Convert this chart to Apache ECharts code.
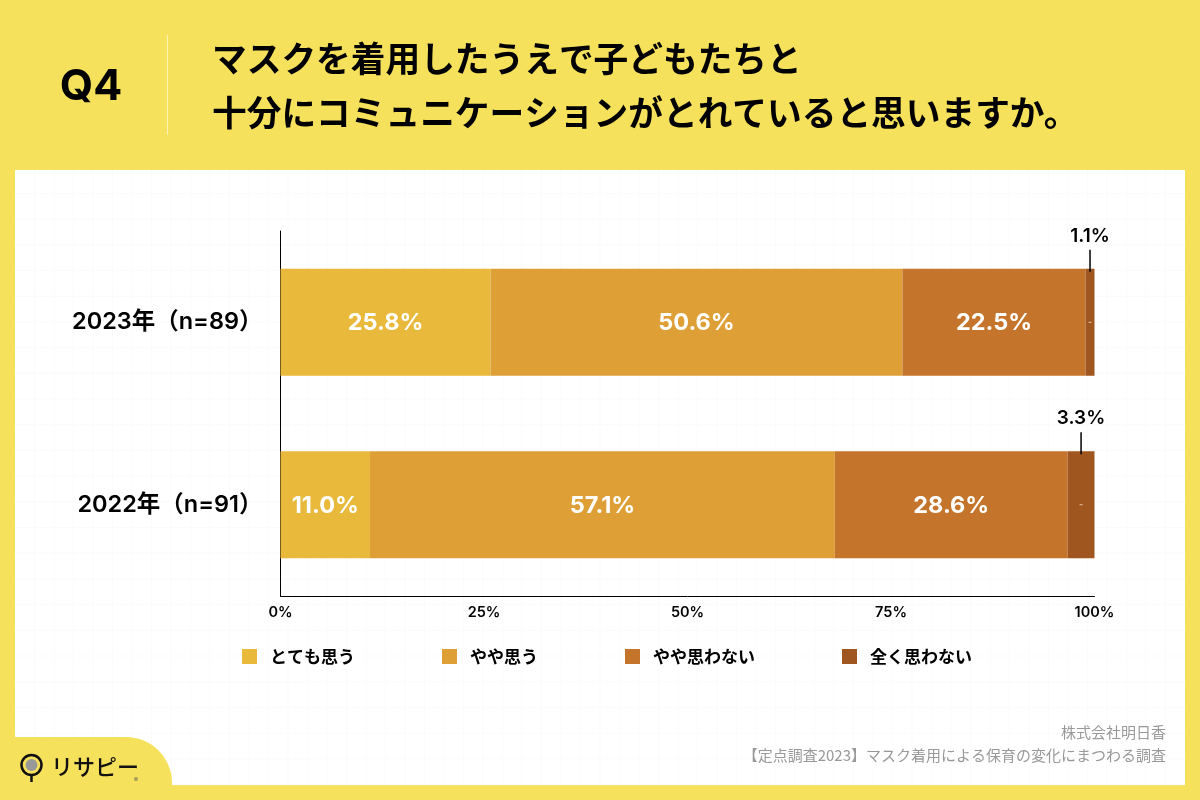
<!DOCTYPE html>
<html>
<head>
<meta charset="utf-8">
<style>
html, body { margin: 0; padding: 0; }
#chart { width: 1200px; height: 800px; }
</style>
<script src="https://cdn.jsdelivr.net/npm/echarts@6/dist/echarts.min.js"></script>
</head>
<body>
<div id="chart"></div>
<script>
var categories = ['2023年（n=89）', '2022年（n=91）'];
var seriesNames = ['とても思う', 'やや思う', 'やや思わない', '全く思わない'];
var veryMuch = [25.8, 11.0];
var somewhat = [50.6, 57.1];
var notMuch = [22.5, 28.6];
var notAtAll = [1.1, 3.3];
var colors = ['#E8B93A', '#DD9F36', '#C5752B', '#9F561F'];
var ticks = [0, 25, 50, 75, 100];

var FONT = 'Inter, "Noto Sans CJK JP", sans-serif';
var CJK = '"Noto Sans CJK JP", sans-serif';
var BAR_H = 107;

var chart = echarts.init(document.getElementById('chart'));

// faint squared paper behind the chart
var paper = [];
for (var gx = 34.5; gx < 1185; gx += 19.5) {
  paper.push({ type: 'line', z: -9, silent: true, shape: { x1: gx, y1: 170, x2: gx, y2: 785 }, style: { stroke: '#fbfbfb', lineWidth: 1 } });
}
for (var gy = 193.5; gy < 785; gy += 25.7) {
  paper.push({ type: 'line', z: -9, silent: true, shape: { x1: 15, y1: gy, x2: 1185, y2: gy }, style: { stroke: '#fbfbfb', lineWidth: 1 } });
}

var barSeries = [veryMuch, somewhat, notMuch, notAtAll].map(function (vals, i) {
  return {
    name: seriesNames[i],
    type: 'bar',
    stack: 'total',
    barWidth: BAR_H,
    itemStyle: { color: colors[i] },
    label: {
      show: i < 3,
      position: 'inside',
      offset: [0, 1],
      color: '#fff',
      fontFamily: FONT,
      fontWeight: 700,
      fontSize: 23.5,
      formatter: function (p) { return p.value.toFixed(1) + '%'; }
    },
    data: vals
  };
});

// callout above the thin last segment: leader line + value
var callouts = notAtAll.map(function (v, i) {
  return [veryMuch[i] + somewhat[i] + notMuch[i] + v / 2, i, v];
});

var option = {
  backgroundColor: '#F5E15B',
  animation: false,
  textStyle: { fontFamily: FONT },
  graphic: [
    { type: 'rect', z: -10, silent: true, shape: { x: 15, y: 170, width: 1170, height: 615 }, style: { fill: '#fff' } }
  ].concat(paper).concat([
    { type: 'line', shape: { x1: 167.5, y1: 35, x2: 167.5, y2: 135 }, style: { stroke: '#FBF3B4', lineWidth: 1 } },
    { type: 'text', x: 91, y: 87, style: { text: 'Q4', font: '700 43px ' + FONT, fill: '#000', align: 'center', verticalAlign: 'middle' } },
    { type: 'text', x: 212, y: 59, style: { text: 'マスクを着用したうえで子どもたちと', font: '700 34.7px ' + CJK, fill: '#000', align: 'left', verticalAlign: 'middle' } },
    { type: 'text', x: 212, y: 113, style: { text: '十分にコミュニケーションがとれていると思いますか。', font: '700 34.7px ' + CJK, fill: '#000', align: 'left', verticalAlign: 'middle' } },
    { type: 'text', x: 1166, y: 732, style: { text: '株式会社明日香', font: '400 15px ' + CJK, fill: '#999', align: 'right', verticalAlign: 'middle' } },
    { type: 'text', x: 1166, y: 755, style: { text: '【定点調査2023】マスク着用による保育の変化にまつわる調査', font: '400 15px ' + CJK, fill: '#999', align: 'right', verticalAlign: 'middle' } },
    // logo tab
    { type: 'rect', shape: { x: 0, y: 737, width: 172, height: 63, r: [0, 46, 0, 0] }, style: { fill: '#F5E15B' } },
    { type: 'circle', shape: { cx: 31.5, cy: 765, r: 10 }, style: { fill: 'none', stroke: '#111', lineWidth: 2.5 } },
    { type: 'circle', shape: { cx: 31.5, cy: 765, r: 6 }, style: { fill: '#999' } },
    { type: 'line', shape: { x1: 31.5, y1: 775, x2: 31.5, y2: 782 }, style: { stroke: '#111', lineWidth: 2.5 } },
    { type: 'text', x: 51, y: 767, style: { text: 'リサピー', font: '500 22px ' + CJK, fill: '#111', align: 'left', verticalAlign: 'middle' } },
    { type: 'text', x: 136, y: 780, style: { text: '®', font: '400 6px ' + FONT, fill: '#555', align: 'center', verticalAlign: 'middle' } }
  ]),
  grid: { left: 280.5, right: 105.5, top: 231, bottom: 204, containLabel: false },
  legend: {
    data: seriesNames,
    left: 242,
    top: 648,
    padding: 0,
    itemWidth: 15,
    itemHeight: 15,
    itemGap: 87,
    icon: 'rect',
    selectedMode: false,
    textStyle: { fontFamily: CJK, fontWeight: 700, fontSize: 17, color: '#000', padding: [0, 0, 0, 8] }
  },
  xAxis: {
    type: 'value',
    min: 0,
    max: 100,
    interval: 25,
    splitLine: { show: false },
    axisTick: { show: false },
    axisLine: { show: true, lineStyle: { color: '#000', width: 1 } },
    axisLabel: { color: '#000', fontFamily: FONT, fontWeight: 600, fontSize: 14.5, margin: 9, formatter: function (v) { return ticks.indexOf(v) >= 0 ? v + '%' : ''; } }
  },
  yAxis: {
    type: 'category',
    inverse: true,
    data: categories,
    axisTick: { show: false },
    axisLine: { show: true, lineStyle: { color: '#000', width: 1 } },
    axisLabel: { color: '#000', fontFamily: FONT, fontWeight: 600, fontSize: 23.5, margin: 18, padding: [2, 0, 0, 0] }
  },
  series: barSeries.concat([{
    type: 'custom',
    silent: true,
    z: 5,
    clip: false,
    encode: { x: 0, y: 1 },
    data: callouts,
    renderItem: function (params, api) {
      var p = api.coord([api.value(0), api.value(1)]);
      var top = p[1] - BAR_H / 2;
      return {
        type: 'group',
        children: [
          { type: 'line', shape: { x1: p[0], y1: top - 19, x2: p[0], y2: top + 3 }, style: { stroke: '#000', lineWidth: 1.5 } },
          { type: 'text', x: p[0], y: top - 32.5, style: { text: api.value(2).toFixed(1) + '%', font: '600 19px ' + FONT, fill: '#000', align: 'center', verticalAlign: 'middle' } },
          { type: 'line', shape: { x1: p[0] - 1.5, y1: p[1], x2: p[0] + 1.5, y2: p[1] }, style: { stroke: '#E8C9A8', lineWidth: 1 } }
        ]
      };
    }
  }])
};

chart.setOption(option);
</script>
</body>
</html>
